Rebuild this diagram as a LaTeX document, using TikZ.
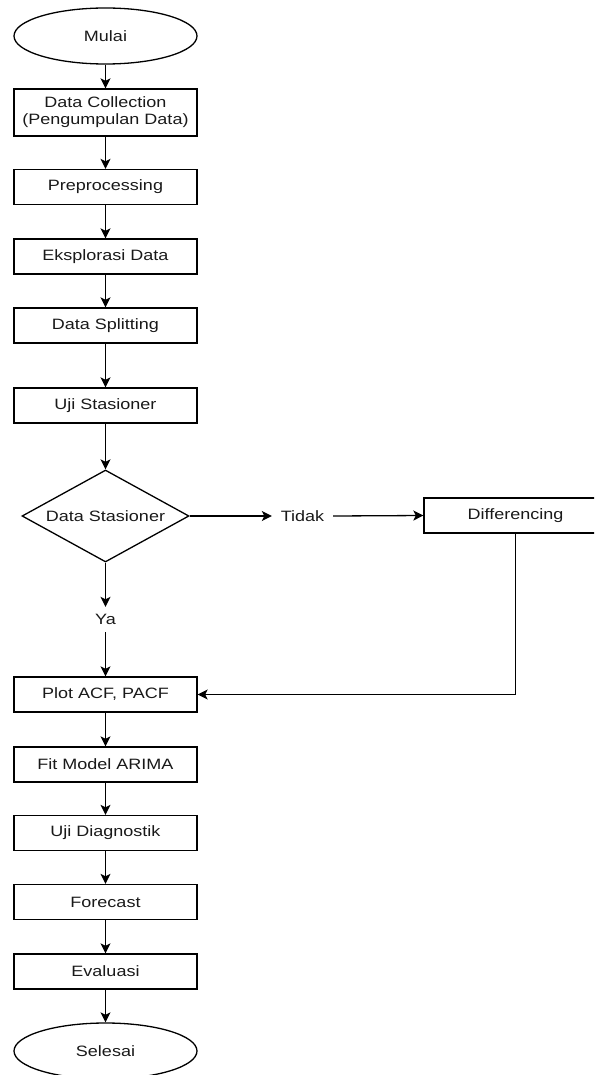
\documentclass[tikz,border=0pt]{standalone}
\usepackage{fontspec}
\setmainfont[FakeStretch=1.2]{Liberation Sans}
\usetikzlibrary{shapes.geometric,arrows.meta}
\begin{document}
\begin{tikzpicture}[x=1pt,y=-1pt,
  every node/.style={font=\fontsize{15}{17}\selectfont, text=black!90},
  proc/.style={draw, line width=1.3pt, rectangle, minimum width=183pt, minimum height=35pt, inner sep=0pt, align=center},
  term/.style={draw, line width=1.3pt, ellipse, minimum width=183pt, minimum height=56pt, inner sep=0pt},
  decis/.style={draw, line width=1.3pt, diamond, aspect=1.815, minimum width=167pt, minimum height=92pt, inner sep=0pt},
  lbl/.style={inner sep=0pt},
  conn/.style={line width=1.3pt, -{Stealth[length=10pt,width=10pt,inset=2.5pt]}}
]
\clip (0,0) rectangle (594,1075);
\node[term] (mulai) at (105.5,36) {Mulai};
\node[proc, minimum height=47pt] (dc) at (105.5,112.5) {Data Collection\\(Pengumpulan Data)};
\node[proc] (pre) at (105.5,187) {Preprocessing};
\node[proc] (eks) at (105.5,256.5) {Eksplorasi Data};
\node[proc] (split) at (105.5,325.5) {Data Splitting};
\node[proc] (uji) at (105.5,405.5) {Uji Stasioner};
\node[decis] (dia) at (105.5,516) {Data Stasioner};
\node[lbl, minimum width=61pt, minimum height=20pt] (tidak) at (302.5,516) {Tidak};
\node[proc] (diff) at (515.5,515.5) {Differencing};
\node[lbl, minimum height=25pt] (ya) at (105.5,619.5) {Ya};
\node[proc] (plot) at (105.5,694.5) {Plot ACF, PACF};
\node[proc] (fit) at (105.5,764.5) {Fit Model ARIMA};
\node[proc] (diag) at (105.5,833) {Uji Diagnostik};
\node[proc] (fc) at (105.5,902) {Forecast};
\node[proc] (eval) at (105.5,971.5) {Evaluasi};
\node[term] (sel) at (105.5,1051) {Selesai};

\draw[conn] (mulai) -- (dc);
\draw[conn] (dc) -- (pre);
\draw[conn] (pre) -- (eks);
\draw[conn] (eks) -- (split);
\draw[conn] (split) -- (uji);
\draw[conn] (uji) -- (dia);
\draw[conn] (dia.east) -- (tidak.west);
\draw[conn] (tidak.east) -- (diff.west);
\draw[conn] (dia.south) -- (ya.north);
\draw[conn] (ya.south) -- (plot.north);
\draw[conn] (diff.south) |- (plot.east);
\draw[conn] (plot) -- (fit);
\draw[conn] (fit) -- (diag);
\draw[conn] (diag) -- (fc);
\draw[conn] (fc) -- (eval);
\draw[conn] (eval) -- (sel);
\end{tikzpicture}
\end{document}
